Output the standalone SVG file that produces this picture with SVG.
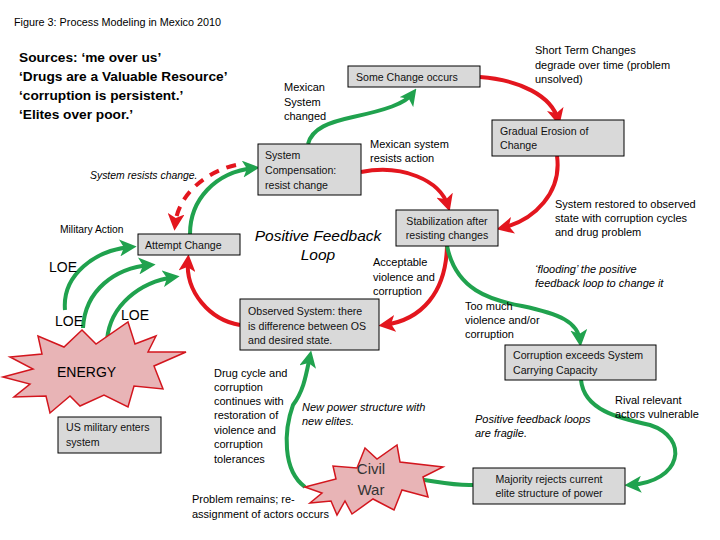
<svg xmlns="http://www.w3.org/2000/svg" width="720" height="540" viewBox="0 0 720 540">
<style>
.bg{fill:#fff}
.box{fill:#d9d9d9;stroke:#000;stroke-width:1}
.star{fill:#e8b4b6;stroke:#d3161e;stroke-width:1.5}
.t{font-family:"Liberation Sans",Arial,sans-serif;font-size:11px;fill:#000}
.bx{font-family:"Liberation Sans",Arial,sans-serif;font-size:10.6px;fill:#111}
.it{font-style:italic}
.src{font-family:"Liberation Sans",Arial,sans-serif;font-size:13.7px;font-weight:bold;fill:#000}
.big{font-family:"Liberation Sans",Arial,sans-serif;font-size:14px;fill:#000}
.g{fill:none;stroke:#20a24e;stroke-width:4;marker-end:url(#ag)}
.r{fill:none;stroke:#e3161e;stroke-width:4;marker-end:url(#ar)}
.rd{fill:none;stroke:#e3161e;stroke-width:4;stroke-dasharray:10,8;marker-end:url(#ar)}
</style>
<defs>
<marker id="ag" viewBox="0 0 12 12" refX="8" refY="6" markerWidth="17" markerHeight="17" markerUnits="userSpaceOnUse" orient="auto">
<path d="M0,0 L12,6 L0,12 L3,6 z" fill="#20a24e"/>
</marker>
<marker id="ar" viewBox="0 0 12 12" refX="8" refY="6" markerWidth="17" markerHeight="17" markerUnits="userSpaceOnUse" orient="auto">
<path d="M0,0 L12,6 L0,12 L3,6 z" fill="#e3161e"/>
</marker>
</defs>
<rect class="bg" x="0" y="0" width="720" height="540"/>

<g id="title">
<text class="t" x="14" y="26" style="font-size:10.8px">Figure 3: Process Modeling in Mexico 2010</text>
</g>
<g id="sources">
<text class="src" x="19" y="62">Sources: ‘me over us’</text>
<text class="src" x="19" y="81">‘Drugs are a Valuable Resource’</text>
<text class="src" x="19" y="100">‘corruption is persistent.’</text>
<text class="src" x="19" y="119">‘Elites over poor.’</text>
</g>

<g id="connectors">
<path class="g" d="M308,144 C312,128 330,122 353,117 C385,110 405,104 413,93"/>
<path class="r" d="M480,77 C520,80 552,96 558,120"/>
<path class="r" d="M557,156 C562,192 535,220 502,228"/>
<path class="r" d="M361,172 C402,164 440,180 448,206"/>
<path class="r" d="M447,246 C446,292 422,320 384,325"/>
<path class="g" d="M447,246 C456,290 490,300 522,306 C560,314 578,322 580,341"/>
<path class="g" d="M581,380 C584,410 618,418 650,425 C690,438 682,482 630,485"/>
<path class="g" d="M473,485 C450,486 432,480 407,478"/>
<path class="g" d="M305,487 C282,470 284,430 293,405 C304,390 306,375 310,356"/>
<path class="r" d="M240,325 C210,320 185,292 188,260"/>
<path class="g" d="M190,234 C190,200 215,172 254,168"/>
<path class="rd" d="M236,165 C205,172 178,195 175,225"/>
<path class="g" d="M65,310 C62,275 95,250 131,247"/>
<path class="g" d="M83,328 C85,290 115,268 150,265"/>
<path class="g" d="M107,340 C110,305 140,282 174,277"/>
</g>

<g id="some-change">
<rect class="box" x="348" y="66" width="132" height="21"/>
<text class="bx" x="356" y="81">Some Change occurs</text>
</g>
<g id="gradual-erosion">
<rect class="box" x="492" y="120" width="132" height="36"/>
<text class="bx" x="500" y="135">Gradual Erosion of</text>
<text class="bx" x="500" y="149">Change</text>
</g>
<g id="system-compensation">
<rect class="box" x="258" y="144" width="103" height="51"/>
<text class="bx" x="265" y="159">System</text>
<text class="bx" x="265" y="174">Compensation:</text>
<text class="bx" x="265" y="189">resist change</text>
</g>
<g id="attempt-change">
<rect class="box" x="138" y="234" width="102" height="21"/>
<text class="bx" x="145" y="249">Attempt Change</text>
</g>
<g id="stabilization">
<rect class="box" x="396" y="210" width="102" height="36"/>
<text class="bx" x="447" y="225" text-anchor="middle">Stabilization after</text>
<text class="bx" x="447" y="239" text-anchor="middle">resisting changes</text>
</g>
<g id="observed-system">
<rect class="box" x="240" y="299" width="139" height="51"/>
<text class="bx" x="248" y="315">Observed System: there</text>
<text class="bx" x="248" y="330">is difference between OS</text>
<text class="bx" x="248" y="344">and desired state.</text>
</g>
<g id="corruption-exceeds">
<rect class="box" x="505" y="345" width="151" height="35"/>
<text class="bx" x="513" y="359">Corruption exceeds System</text>
<text class="bx" x="513" y="374">Carrying Capacity</text>
</g>
<g id="majority-rejects">
<rect class="box" x="473" y="468" width="152" height="36"/>
<text class="bx" x="549" y="483" text-anchor="middle">Majority rejects current</text>
<text class="bx" x="549" y="497" text-anchor="middle">elite structure of power</text>
</g>
<g id="us-military">
<rect class="box" x="58" y="417" width="103" height="36"/>
<text class="bx" x="66" y="431">US military enters</text>
<text class="bx" x="66" y="446">system</text>
</g>
<g id="energy">
<polygon class="star" points="3,377 33,369 10,357 42,354 38,336 64,347 82,330 96,344 128,322 135,344 156,336 148,352 186,352 154,366 163,389 134,386 128,407 104,395 80,406 70,396 50,413 46,396 14,397 30,384"/>
<text class="big" x="57" y="377">ENERGY</text>
</g>
<g id="civil-war">
<polygon class="star" points="305,487 336,479 333,466 357,468 365,448 377,459 397,445 400,462 443,467 423,477 428,497 402,490 394,510 373,499 352,514 345,501 337,515 331,501 310,503 322,493"/>
<text class="big" x="371" y="474" text-anchor="middle" style="font-size:15px;fill:#333">Civil</text>
<text class="big" x="371" y="495" text-anchor="middle" style="font-size:15px;fill:#333">War</text>
</g>

<g id="labels">
<text class="t" x="284" y="91">Mexican</text>
<text class="t" x="284" y="106">System</text>
<text class="t" x="284" y="120">changed</text>
<text class="t" x="535" y="54">Short Term Changes</text>
<text class="t" x="535" y="69">degrade over time (problem</text>
<text class="t" x="535" y="83">unsolved)</text>
<text class="t" x="370" y="148">Mexican system</text>
<text class="t" x="370" y="162">resists action</text>
<text class="t it" x="90" y="179" style="font-size:10.4px">System resists change.</text>
<text class="t" x="60" y="233" style="font-size:10.3px">Military Action</text>
<text class="big" x="49" y="272">LOE</text>
<text class="big" x="55" y="326">LOE</text>
<text class="big" x="121" y="320">LOE</text>
<text class="t it" x="318" y="241" text-anchor="middle" style="font-size:15.5px">Positive Feedback</text>
<text class="t it" x="318" y="260" text-anchor="middle" style="font-size:15.5px">Loop</text>
<text class="t" x="373" y="266">Acceptable</text>
<text class="t" x="373" y="281">violence and</text>
<text class="t" x="373" y="295">corruption</text>
<text class="t" x="555" y="208">System restored to observed</text>
<text class="t" x="555" y="222">state with corruption cycles</text>
<text class="t" x="555" y="236">and drug problem</text>
<text class="t it" x="535" y="273">‘flooding’ the positive</text>
<text class="t it" x="535" y="287">feedback loop to change it</text>
<text class="t" x="465" y="310">Too much</text>
<text class="t" x="465" y="324">violence and/or</text>
<text class="t" x="465" y="338">corruption</text>
<text class="t" x="214" y="377">Drug cycle and</text>
<text class="t" x="214" y="391">corruption</text>
<text class="t" x="214" y="405">continues with</text>
<text class="t" x="214" y="419">restoration of</text>
<text class="t" x="214" y="434">violence and</text>
<text class="t" x="214" y="448">corruption</text>
<text class="t" x="214" y="463">tolerances</text>
<text class="t it" x="302" y="411">New power structure with</text>
<text class="t it" x="302" y="425">new elites.</text>
<text class="t" x="192" y="503">Problem remains; re-</text>
<text class="t" x="192" y="518">assignment of actors occurs</text>
<text class="t it" x="475" y="423">Positive feedback loops</text>
<text class="t it" x="475" y="437">are fragile.</text>
<text class="t" x="615" y="404">Rival relevant</text>
<text class="t" x="615" y="418">actors vulnerable</text>
</g>
</svg>
